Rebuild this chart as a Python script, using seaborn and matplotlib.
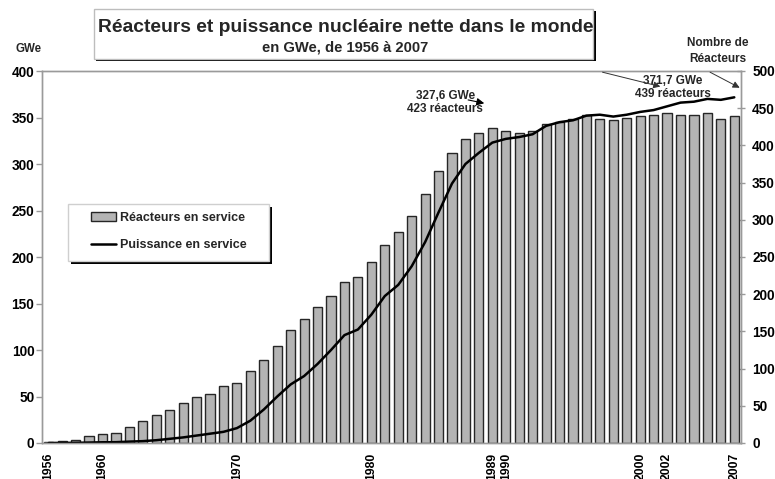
import matplotlib
matplotlib.use("Agg")
import matplotlib.pyplot as plt
import matplotlib.patches as mpatches
from matplotlib.lines import Line2D
import numpy as np
import seaborn as sns

years = list(range(1956, 2008))
reactors = [1, 3, 4, 9, 12, 14, 22, 29, 38, 45,
            54, 62, 66, 76, 81, 97, 112, 130, 152, 167,
            183, 198, 217, 223, 243, 266, 283, 305, 335, 365,
            390, 408, 417, 423, 419, 417, 420, 429, 431, 436,
            441, 436, 434, 437, 440, 441, 444, 441, 441, 443,
            435, 439]
gwe = [0.05, 0.1, 0.2, 0.5, 0.8, 0.9, 1.5, 2.0, 3.0, 4.5,
       6, 8, 10, 12, 16, 24, 36, 50, 63, 72,
       85, 100, 116, 122, 138, 158, 170, 190, 216, 248,
       279, 300, 312, 323, 327, 329, 332, 341, 345, 347,
       352, 353, 351, 353, 356, 358, 362, 366, 367, 370,
       369, 371.7]
label_years = [1956, 1960, 1970, 1980, 1989, 1990, 2000, 2002, 2007]
left_ticks = list(range(0, 401, 50))
right_ticks = list(range(0, 501, 50))

title = "Réacteurs et puissance nucléaire nette dans le monde"
subtitle = "en GWe, de 1956 à 2007"
bar_label = "Réacteurs en service"
line_label = "Puissance en service"
annot1 = "327,6 GWe\n423 réacteurs"
annot2 = "371,7 GWe\n439 réacteurs"

sns.set_style("white")
plt.rcParams["font.family"] = ["Liberation Sans", "DejaVu Sans"]
plt.rcParams["font.weight"] = "bold"

BAR = "#b4b4b4"
EDGE = "#262626"
SPINE = "#9a9a9a"

W, H = 775, 479
fig = plt.figure(figsize=(W / 100, H / 100), dpi=100)
ax = fig.add_axes([42 / W, 1 - 443 / H, 699 / W, 372 / H])

year_str = [str(y) for y in years]
sns.barplot(x=year_str, y=reactors, ax=ax, color=BAR, saturation=1,
            edgecolor=EDGE, linewidth=1.0, width=0.68)
ax.set_ylim(0, 500)

ax2 = ax.twinx()
pos = np.arange(len(years))
sns.lineplot(x=pos, y=gwe, ax=ax2, color="black", linewidth=1.8)
ax2.set_ylim(0, 400)
ax.set_xlim(-0.5, len(years) - 0.5)

# axis sides: reactors on right, GWe on left
ax.yaxis.tick_right()
ax.yaxis.set_label_position("right")
ax2.yaxis.tick_left()
ax2.yaxis.set_label_position("left")
ax.set_yticks(right_ticks)
ax.set_yticklabels([str(t) for t in right_ticks])
ax2.set_yticks(left_ticks)
ax2.set_yticklabels([str(t) for t in left_ticks])
ax.set_ylabel("")
ax2.set_ylabel("")
ax.set_xlabel("")

tick_pos = [years.index(y) for y in label_years]
ax.set_xticks(tick_pos)
ax.set_xticklabels([str(y) for y in label_years], rotation=90,
                   fontsize=8.8, fontweight="bold")

for a in (ax, ax2):
    for s in a.spines.values():
        s.set_color(SPINE)
        s.set_linewidth(1.0)
        s.set_visible(True)
    a.tick_params(axis="both", colors=SPINE, labelcolor="black",
                  length=4, width=1, labelsize=9.8)
ax.tick_params(axis="x", labelsize=8.8, pad=3)
ax.tick_params(axis="y", direction="inout", length=6, pad=5)
ax2.tick_params(axis="y", pad=1.5)

for lab in ax.get_yticklabels() + ax2.get_yticklabels() + ax.get_xticklabels():
    lab.set_fontweight("bold")

# annotations
ax2.text(29.5, 366, annot1, ha="center", va="center", fontsize=8.5,
         fontweight="bold", linespacing=1.1)
ax2.annotate("", xy=(32.4, 365.3), xytext=(31.2, 368.9),
             arrowprops=dict(arrowstyle="-|>", color="black", lw=0.8,
                             mutation_scale=11, shrinkA=0, shrinkB=0))
ax2.text(46.4, 382.5, annot2, ha="center", va="center", fontsize=8.5,
         fontweight="bold", linespacing=1.1)
ax2.annotate("", xy=(45.5, 383.3), xytext=(41.2, 398.7),
             arrowprops=dict(arrowstyle="-|>", color="#333333", lw=0.7,
                             mutation_scale=10, shrinkA=0, shrinkB=0),
             annotation_clip=False)
ax2.annotate("", xy=(51.4, 382.0), xytext=(49.2, 398.7),
             arrowprops=dict(arrowstyle="-|>", color="#333333", lw=0.7,
                             mutation_scale=10, shrinkA=0, shrinkB=0),
             annotation_clip=False)

# legend box (drawn manually) + legend entries
lx0, lx1, ly0, ly1 = 68, 269, 204, 261
lsh = mpatches.Rectangle(((lx0 + 3) / W, 1 - (ly1 + 3) / H), (lx1 - lx0) / W,
                         (ly1 - ly0) / H, transform=fig.transFigure,
                         facecolor="black", edgecolor="none", zorder=4)
lbox = mpatches.Rectangle((lx0 / W, 1 - ly1 / H), (lx1 - lx0) / W,
                          (ly1 - ly0) / H, transform=fig.transFigure,
                          facecolor="white", edgecolor="#cfcfcf",
                          linewidth=1, zorder=5)
fig.patches.extend([lsh, lbox])
handles = [mpatches.Patch(facecolor=BAR, edgecolor=EDGE, linewidth=1.0),
           Line2D([0], [0], color="black", linewidth=1.8)]
leg = fig.legend(handles, [bar_label, line_label], loc="center",
                 bbox_to_anchor=((lx0 + lx1) / 2 / W + 0.5 / W,
                                 1 - (ly0 + ly1) / 2 / H + 1 / H),
                 frameon=False, prop={"weight": "bold", "size": 9},
                 labelspacing=1.25, handlelength=2.0, handletextpad=0.3,
                 borderpad=0)
leg.set_zorder(6)

# title box
sh = mpatches.Rectangle((96 / W, 1 - 61 / H), 500 / W, 50 / H,
                        transform=fig.transFigure, facecolor="black",
                        edgecolor="none", zorder=1)
box = mpatches.Rectangle((94 / W, 1 - 59 / H), 499 / W, 50 / H,
                         transform=fig.transFigure, facecolor="white",
                         edgecolor="#bdbdbd", linewidth=1, zorder=2)
fig.patches.extend([sh, box])
fig.text(346 / W, 1 - 27.5 / H, title, ha="center", va="center",
         fontsize=13.9, fontweight="bold", zorder=3)
fig.text(345 / W, 1 - 48 / H, subtitle, ha="center", va="center",
         fontsize=10.6, fontweight="bold", zorder=3)

fig.text(28.7 / W, 1 - 49 / H, "GWe", ha="center", va="center",
         fontsize=8.3, fontweight="bold")
fig.text(718 / W, 1 - 51 / H, "Nombre de\nRéacteurs", ha="center",
         va="center", fontsize=8.5, fontweight="bold", linespacing=1.35)

fig.savefig("out.png", dpi=100)
